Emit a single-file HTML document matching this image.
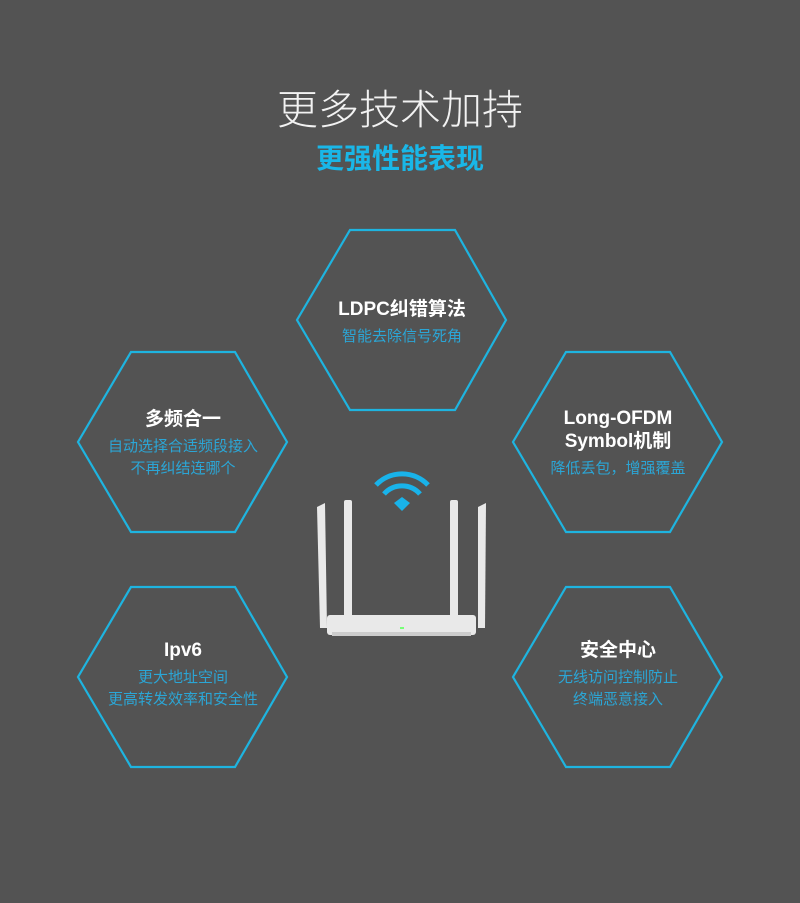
<!DOCTYPE html>
<html><head><meta charset="utf-8"><style>
body{margin:0;width:800px;height:903px;background:#535353;overflow:hidden;font-family:"Liberation Sans","Noto Sans CJK SC",sans-serif;position:relative}
.t{position:absolute;left:0;width:800px;text-align:center}
.h{position:absolute;width:210px;text-align:center}
.h b{display:block;color:#fff;font-size:19px;line-height:23px}
.h span{display:block;color:#2ba6d6;font-size:15px;line-height:22px;margin-top:5px}
</style></head><body>
<div class="t" style="top:76px;font-size:41px;color:#f2f2f2;font-weight:300">更多技术加持</div>
<div class="t" style="top:137px;font-size:28px;color:#19b7e8;font-weight:bold">更强性能表现</div>
<svg width="800" height="903" style="position:absolute;left:0;top:0">
<g fill="none" stroke="#1eb4e0" stroke-width="2.2">
<polygon points="350,230 455,230 506,320 455,410 350,410 297,320"/>
<polygon points="131,352 235,352 287,442 235,532 131,532 78,442"/>
<polygon points="566,352 670,352 722,442 670,532 566,532 513,442"/>
<polygon points="131,587 235,587 287,677 235,767 131,767 78,677"/>
<polygon points="566,587 670,587 722,677 670,767 566,767 513,677"/>
</g>
<g fill="none" stroke="#19b3ea" stroke-width="5">
<path d="M376,485 A36,36 0 0 1 428,485"/>
<path d="M384,494 A24,24 0 0 1 420,494"/>
</g>
<path d="M394,503 L402,497 L410,503 L402,511 Z" fill="#19b3ea"/>
<g fill="#e9e9e9">
<polygon points="317,507 325,503 327,628 320,628"/>
<rect x="344" y="500" width="8" height="120" rx="2"/>
<rect x="450" y="500" width="8" height="120" rx="2"/>
<polygon points="478,507 486,503 485,628 478,628"/>
<rect x="327" y="615" width="149" height="20" rx="3"/>
</g>
<rect x="332" y="632" width="139" height="4" fill="#ccc"/>
<rect x="400" y="627" width="4" height="2" fill="#7f7"/>
</svg>
<div class="h" style="left:297px;top:298px"><b>LDPC纠错算法</b><span>智能去除信号死角</span></div>
<div class="h" style="left:78px;top:408px"><b>多频合一</b><span>自动选择合适频段接入<br>不再纠结连哪个</span></div>
<div class="h" style="left:513px;top:407px"><b style="line-height:23px">Long-OFDM<br>Symbol机制</b><span>降低丢包，增强覆盖</span></div>
<div class="h" style="left:78px;top:639px"><b>Ipv6</b><span>更大地址空间<br>更高转发效率和安全性</span></div>
<div class="h" style="left:513px;top:639px"><b>安全中心</b><span>无线访问控制防止<br>终端恶意接入</span></div>
</body></html>
